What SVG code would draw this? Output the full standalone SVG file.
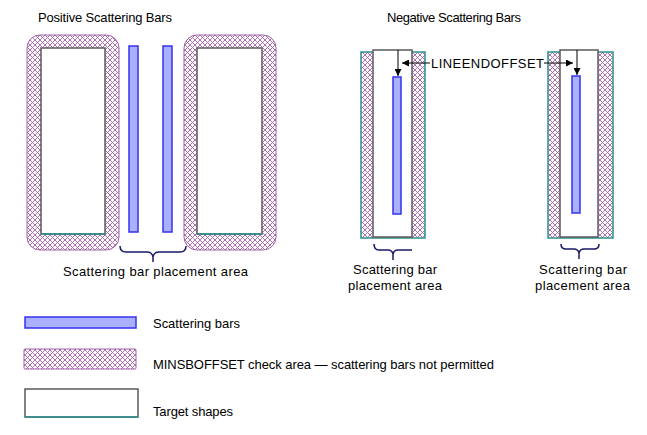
<svg xmlns="http://www.w3.org/2000/svg" width="647" height="435" viewBox="0 0 647 435">
<defs>
<pattern id="hatch" width="5" height="5" patternUnits="userSpaceOnUse">
<rect width="5" height="5" fill="#fff"/>
<path d="M0,0 L5,5 M5,0 L0,5" stroke="#a860a8" stroke-width="0.9"/>
</pattern>
<marker id="ah" viewBox="0 0 10 10" refX="10" refY="5" markerWidth="7" markerHeight="7" orient="auto" markerUnits="userSpaceOnUse">
<path d="M0,0 L10,5 L0,10 Z" fill="#000"/>
</marker>
<style>
text{font-family:"Liberation Sans",Arial,sans-serif;font-size:13px;fill:#000}
.hz{fill:url(#hatch);stroke:#a060a8;stroke-width:1}
.hzt{fill:url(#hatch);stroke:#2a9090;stroke-width:1.5}
.tg{fill:#fff;stroke:#5a5a5a;stroke-width:1.5}
.bar{fill:#aab0ff;stroke:#3333ee;stroke-width:1.5}
.brace{fill:none;stroke:#1a1a6a;stroke-width:1.5}
.ln{fill:none;stroke:#000;stroke-width:1}
.tl{stroke:#2a9090;stroke-width:1.5}
</style>
</defs>
<text x="38" y="22" textLength="134">Positive Scattering Bars</text>
<text x="387" y="22" textLength="134">Negative Scattering Bars</text>
<g id="pos-left">
<rect class="hz" x="27" y="35" width="92" height="215" rx="13"/>
<rect class="tg" x="41" y="48" width="64" height="186"/>
<line class="tl" x1="41" y1="234" x2="105" y2="234"/>
</g>
<g id="pos-bar1"><rect class="bar" x="129" y="46" width="9" height="186"/></g>
<g id="pos-bar2"><rect class="bar" x="163" y="46" width="9" height="186"/></g>
<g id="pos-right">
<rect class="hz" x="184" y="35" width="92" height="215" rx="13"/>
<rect class="tg" x="197" y="48" width="65" height="186"/>
<line class="tl" x1="197" y1="234" x2="262" y2="234"/>
</g>
<g id="pos-brace">
<path class="brace" d="M120,246 Q120,252 126,252 L147,252 Q152,252 153,257 L153,262 M153,257 Q154,252 159,252 L180,252 Q186,252 186,246"/>
<text x="63" y="276" textLength="185">Scattering bar placement area</text>
</g>
<g id="neg-left">
<rect class="hzt" x="361" y="52" width="64" height="186"/>
<rect class="tg" x="373" y="50" width="39" height="187"/>
<rect class="bar" x="393" y="77" width="8" height="137"/>
</g>
<g id="neg-right">
<rect class="hzt" x="548" y="52" width="65" height="186"/>
<rect class="tg" x="560" y="50" width="38" height="187"/>
<rect class="bar" x="572" y="76" width="8" height="137"/>
</g>
<g id="connectors">
<line class="ln" x1="398" y1="50" x2="398" y2="76" marker-end="url(#ah)"/>
<line class="ln" x1="577" y1="50" x2="577" y2="75" marker-end="url(#ah)"/>
<line class="ln" x1="430" y1="63" x2="402" y2="63" marker-end="url(#ah)"/>
<line class="ln" x1="544" y1="63" x2="573" y2="63" marker-end="url(#ah)"/>
</g>
<text x="431" y="68" textLength="113">LINEENDOFFSET</text>
<g id="neg-left-brace">
<path class="brace" d="M374,244 Q374,250 379,250 L388,250 Q392,250 393,254 L393,260 M393,254 Q394,250 398,250 L412,250"/>
<text x="353" y="274" textLength="84">Scattering bar</text>
<text x="348" y="290" textLength="94">placement area</text>
</g>
<g id="neg-right-brace">
<path class="brace" d="M561,244 Q561,249 566,249 L574,249 Q578,249 579,253 L579,259 M579,253 Q580,249 584,249 L594,249 Q599,249 599,244"/>
<text x="539" y="274" textLength="88">Scattering bar</text>
<text x="535" y="290" textLength="95">placement area</text>
</g>
<g id="legend-bars">
<rect class="bar" x="25" y="317" width="111" height="11"/>
<text x="153" y="328" textLength="87">Scattering bars</text>
</g>
<g id="legend-hatch">
<rect class="hz" x="24" y="349" width="112" height="20" rx="1"/>
<text x="153" y="369" textLength="341">MINSBOFFSET check area — scattering bars not permitted</text>
</g>
<g id="legend-target">
<rect class="tg" x="25" y="389" width="113" height="28"/>
<line class="tl" x1="25" y1="417" x2="138" y2="417"/>
<text x="153" y="416" textLength="80">Target shapes</text>
</g>
</svg>
